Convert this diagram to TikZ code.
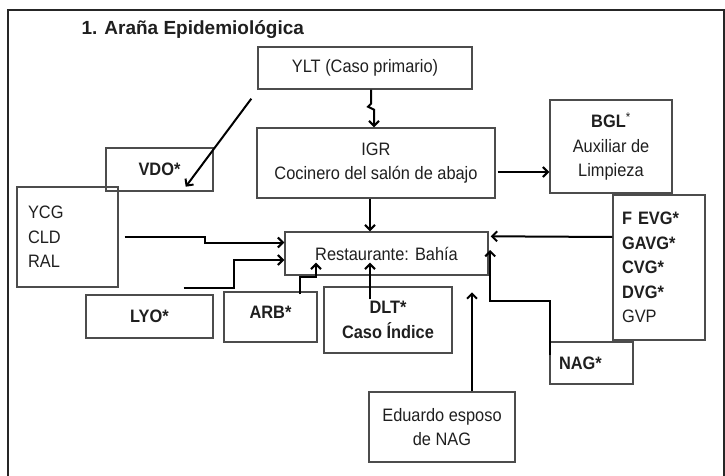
\documentclass[tikz,border=0pt]{standalone}
\usepackage{fontspec}
\setmainfont{Liberation Sans}[FakeStretch=0.91]
\newfontfamily\titulofont{Liberation Sans}
\usetikzlibrary{arrows.meta,calc}

\begin{document}
\begin{tikzpicture}[
        x=1pt, y=-1pt, % Coordenadas en pixeles, eje y hacia abajo
        caja/.style={draw=black!70, line width=1.4pt, inner sep=0pt, align=center, text=black!88,
            font=\fontsize{18}{24.5}\selectfont}, % Estilo de las cajas
        flecha/.style={draw, line width=2pt, -{Straight Barb[length=5pt,width=10pt]}}, % Estilo de las flechas
    ]
    \useasboundingbox (0,0) rectangle (725,476);

    % Marco y titulo
    \draw[line width=1.5pt, black!85] (8,476) -- (8,10) -- (724,10) -- (724,476);
    \node[anchor=base west, text=black!88, font=\titulofont\bfseries\fontsize{19}{19}\selectfont] (titulo) at (78,35) {1. Araña Epidemiológica};

    % Cajas
    \node[caja, minimum width=214pt, minimum height=42pt] (ylt) at (365,68) {YLT (Caso primario)};
    \node[caja, minimum width=238pt, minimum height=70pt] (igr) at (376,163) {IGR\\Cocinero del salón de abajo};
    \node[caja, minimum width=107pt, minimum height=43pt] (vdo) at (159.5,169.5) {\textbf{VDO*}};
    \node[caja, minimum width=122pt, minimum height=93pt] (bgl) at (611,146.5) {\textbf{BGL}\textsuperscript{*}\\Auxiliar de\\Limpieza};
    \node[caja, minimum width=101pt, minimum height=100pt, text width=79pt, align=left] (ycg) at (67.5,237) {YCG\\CLD\\RAL};
    \node[caja, minimum width=203pt, minimum height=43pt] (rest) at (386.5,253.5) {Restaurante: Bahía};
    \node[caja, minimum width=92pt, minimum height=145pt, text width=74pt, align=left] (fevg) at (659,267.5)
        {\textbf{F EVG*}\\\textbf{GAVG*}\\\textbf{CVG*}\\\textbf{DVG*}\\GVP};
    \node[caja, minimum width=127pt, minimum height=43pt] (lyo) at (149.5,316.5) {\textbf{LYO*}};
    \node[caja, minimum width=93pt, minimum height=50pt, text depth=10pt] (arb) at (270.5,317) {\textbf{ARB*}};
    \node[caja, minimum width=128pt, minimum height=66pt] (dlt) at (388,320) {\textbf{DLT*}\\\textbf{Caso Índice}};
    \node[caja, minimum width=83pt, minimum height=42pt, text width=65pt, align=left] (nag) at (591.5,363) {\textbf{NAG*}};
    \node[caja, minimum width=146pt, minimum height=70pt] (edu) at (442,427) {Eduardo esposo\\de NAG};

    % Flechas
    \draw[flecha] ([xshift=-6pt,yshift=-9pt]ylt.south west) -- ([xshift=-28pt,yshift=5pt]vdo.south east);
    \draw[flecha] ([xshift=6pt]ylt.south) -- ++(0,14) -- ++(-3,3) -- ++(6,3) -- ([xshift=-2pt]igr.north);
    \draw[flecha] ([xshift=-6pt]igr.south) -- ([xshift=-16.5pt]rest.north);
    \draw[flecha] ([xshift=2pt,yshift=-9pt]igr.east) -- ([yshift=-25.5pt]bgl.west);
    \draw[flecha] ([xshift=6pt]ycg.east) -- ++(80,0) |- ([yshift=11pt]rest.west);
    \draw[flecha] ([xshift=-30pt,yshift=6pt]lyo.north east) -- ++(50,0) |- ([yshift=-6.5pt]rest.west);
    \draw[flecha] ([xshift=-18pt,yshift=-3pt]arb.north east) -- ++(0,-17) -| ([xshift=-70.5pt,yshift=13pt]rest.south);
    \draw[flecha] ([xshift=-18pt,yshift=-13pt]dlt.north) -- ([xshift=-16.5pt,yshift=13pt]rest.south);
    \draw[flecha] ([xshift=30pt]edu.north) -- ([xshift=30pt,yshift=99pt]edu.north);
    \draw[flecha] ([xshift=1pt,yshift=8pt]nag.west) -- ++(0,-54) -| ([xshift=1.5pt,yshift=3.5pt]rest.east);
    \draw[flecha] ([yshift=30.5pt]fevg.west) -- ([xshift=2pt,yshift=-5pt]rest.north east);
\end{tikzpicture}
\end{document}
